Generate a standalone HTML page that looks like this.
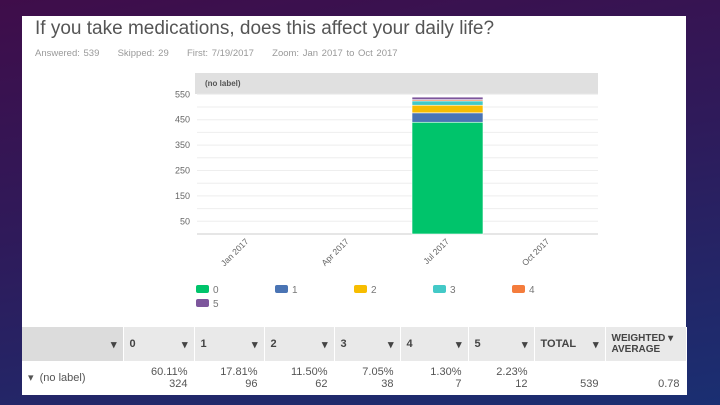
<!DOCTYPE html>
<html><head><meta charset="utf-8"><style>
body{margin:0;width:720px;height:405px;overflow:hidden;font-family:"Liberation Sans",sans-serif;background:linear-gradient(170deg,#3f0d4a 0%,#2f1a5a 45%,#1a2f72 100%);position:relative}
#panel{position:absolute;left:22px;top:16px;width:664px;height:379px;background:#fff}
.t{position:absolute;white-space:nowrap}
table{position:absolute;left:22px;top:327px;width:664px;table-layout:fixed;border-collapse:collapse;font-size:11px;color:#555}
td{padding:0 6px;border-right:1px solid #fff;overflow:hidden;white-space:nowrap}
</style></head><body>
<div id="panel"></div>
<div class="t" style="left:35px;top:18px;font-size:19px;color:#555">If you take medications, does this affect your daily life?</div>
<div class="t" style="left:35px;top:48px;font-size:9.5px;color:#999;word-spacing:1px">Answered: 539 &nbsp;&nbsp;&nbsp; Skipped: 29 &nbsp;&nbsp;&nbsp; First: 7/19/2017 &nbsp;&nbsp;&nbsp; Zoom: Jan 2017 to Oct 2017</div>
<svg id="chart" width="720" height="330" style="position:absolute;left:0;top:0"></svg>
<table>
<colgroup><col style="width:101px"><col style="width:71px"><col style="width:70px"><col style="width:70px"><col style="width:66px"><col style="width:68px"><col style="width:66px"><col style="width:71px"><col style="width:81px"></colgroup>
<tr style="height:34px;background:#e9e9e9;font-weight:bold;color:#444">
<td style="background:#dcdcdc;text-align:right">▾</td>
<td>0 <span style="float:right">▾</span></td><td>1 <span style="float:right">▾</span></td><td>2 <span style="float:right">▾</span></td><td>3 <span style="float:right">▾</span></td><td>4 <span style="float:right">▾</span></td><td>5 <span style="float:right">▾</span></td><td>TOTAL <span style="float:right">▾</span></td><td style="font-size:10px">WEIGHTED ▾<br>AVERAGE</td></tr>
<tr style="height:34px;background:#fff;text-align:right;line-height:12px">
<td style="text-align:left">▾ &nbsp;(no label)</td>
<td>60.11%<br>324</td><td>17.81%<br>96</td><td>11.50%<br>62</td><td>7.05%<br>38</td><td>1.30%<br>7</td><td>2.23%<br>12</td><td><br>539</td><td><br>0.78</td></tr>
</table>
<script>
const categories=["Jan 2017","Apr 2017","Jul 2017","Oct 2017"];
const seriesNames=["0","1","2","3","4","5"];
const colors=["#00c46b","#4a74b4","#f7bd00","#43c9c7","#f47c3c","#7d569c"];
const values=[440,37,30,17,5,10];
const yTicks=[50,150,250,350,450,550];
const ns="http://www.w3.org/2000/svg",svg=document.getElementById('chart');
const X0=197,X1=598,Y0=234,K=0.254;
const y=v=>Y0-v*K;
const bw=(X1-X0)/4;
const x=i=>X0+i*bw;
function mk(t,a){const e=document.createElementNS(ns,t);for(const k in a)e.setAttribute(k,a[k]);svg.appendChild(e);return e;}
let h=mk('rect',{x:X0-2,y:73,width:X1-X0+2,height:21,fill:'#e0e0e0'});

let ht=mk('text',{x:205,y:86,'font-size':8,'font-weight':'bold',fill:'#555'});ht.textContent='(no label)';

for(let v=50;v<=550;v+=50){let g=mk('line',{x1:X0,x2:X1,y1:y(v),y2:y(v),stroke:'#eee'});}
yTicks.forEach(v=>{let t=mk('text',{x:190,y:y(v)+3,'text-anchor':'end','font-size':9,fill:'#666'});t.textContent=v;
});
let ax=mk('line',{x1:X0,x2:X1,y1:Y0,y2:Y0,stroke:'#ccc'});
categories.forEach((c,i)=>{const cx=x(i)+bw/2+2;let t=mk('text',{x:cx,y:Y0+8,'text-anchor':'end','font-size':8.5,fill:'#666',transform:`rotate(-45 ${cx} ${Y0+8})`});t.textContent=c;
});
let acc=0;const bi=2;
values.forEach((v,k)=>{let r=mk('rect',{x:x(bi)+14.5,y:y(acc+v),width:71,height:v*K,fill:colors[k],stroke:'#fff','stroke-width':0.6});
acc+=v;});
seriesNames.forEach((s,k)=>{const lx=196+(k%5)*79,ly=285+Math.floor(k/5)*14;
let r=mk('rect',{x:lx,y:ly,width:13,height:8,rx:2,fill:colors[k]});
let t=mk('text',{x:lx+17,y:ly+8,'font-size':10,fill:'#777'});t.textContent=s;});
</script>
</body></html>
